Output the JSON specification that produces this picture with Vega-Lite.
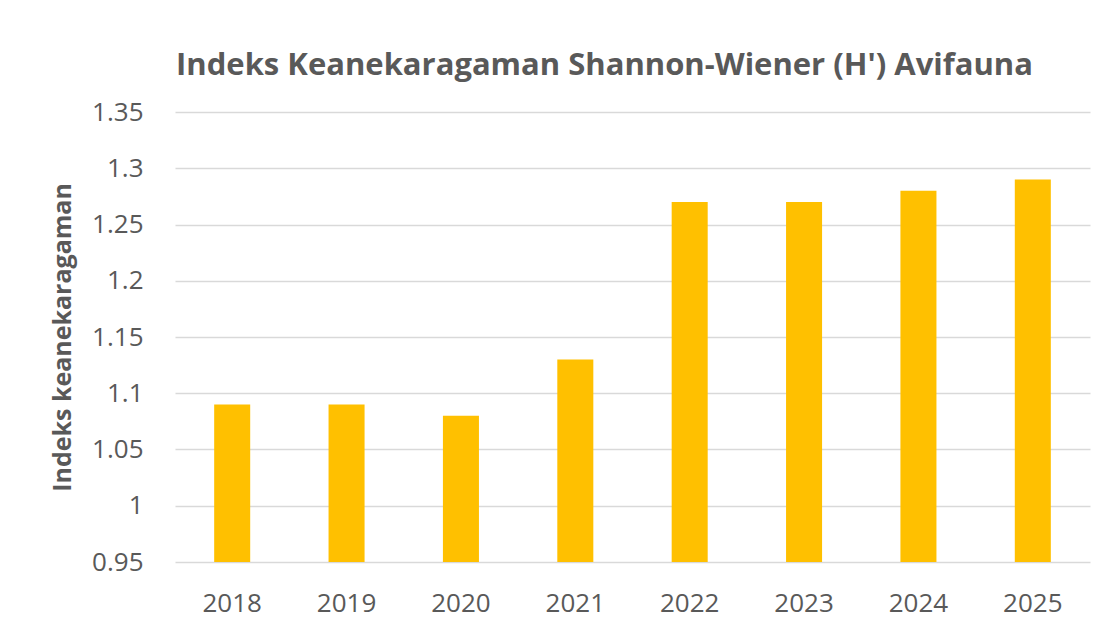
{
  "$schema": "https://vega.github.io/schema/vega-lite/v6.json",
  "autosize": "none",
  "width": 915,
  "height": 450,
  "padding": {"left": 175, "top": 112, "right": 21, "bottom": 71},
  "background": "white",
  "title": {
    "text": "Indeks Keanekaragaman Shannon-Wiener (H') Avifauna",
    "font": "Open Sans",
    "fontSize": 31,
    "fontWeight": "bold",
    "color": "#595959",
    "anchor": "middle",
    "dx": -28,
    "offset": 17
  },
  "data": {
    "values": [
      {"tahun": "2018", "nilai": 1.09},
      {"tahun": "2019", "nilai": 1.09},
      {"tahun": "2020", "nilai": 1.08},
      {"tahun": "2021", "nilai": 1.13},
      {"tahun": "2022", "nilai": 1.27},
      {"tahun": "2023", "nilai": 1.27},
      {"tahun": "2024", "nilai": 1.28},
      {"tahun": "2025", "nilai": 1.29}
    ]
  },
  "mark": {"type": "bar", "color": "#FFC000", "clip": true},
  "encoding": {
    "x": {
      "field": "tahun",
      "type": "nominal",
      "title": null,
      "scale": {"paddingInner": 0.685, "paddingOuter": 0.3425},
      "axis": {
        "labelAngle": 0,
        "labelFont": "Open Sans",
        "labelFontSize": 26,
        "labelColor": "#595959",
        "labelPadding": 28,
        "ticks": false,
        "domain": false,
        "grid": false
      }
    },
    "y": {
      "field": "nilai",
      "type": "quantitative",
      "title": "Indeks keanekaragaman",
      "scale": {"domain": [0.95, 1.35], "zero": false, "nice": false},
      "axis": {
        "values": [0.95, 1, 1.05, 1.1, 1.15, 1.2, 1.25, 1.3, 1.35],
        "labelExpr": "format(datum.value, '.2~f')",
        "labelFont": "Open Sans",
        "labelFontSize": 26,
        "labelColor": "#595959",
        "labelPadding": 32,
        "ticks": false,
        "domain": false,
        "gridColor": "#D9D9D9",
        "gridWidth": 1.5,
        "titleFont": "Open Sans",
        "titleFontSize": 25,
        "titleFontWeight": "bold",
        "titleColor": "#595959",
        "titlePadding": 16
      }
    }
  },
  "config": {"view": {"stroke": null}}
}
